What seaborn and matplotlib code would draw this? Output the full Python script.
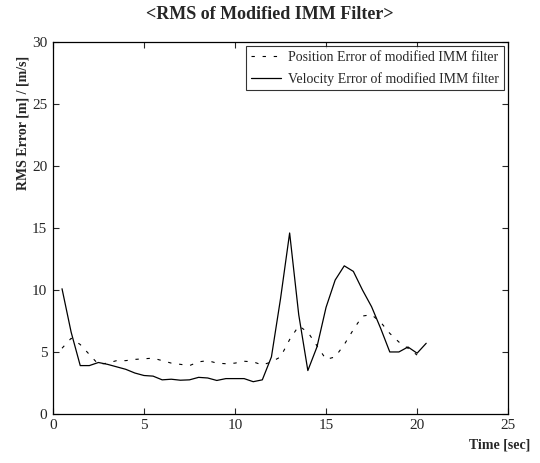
import numpy as np
import pandas as pd
import matplotlib
matplotlib.use("Agg")
import matplotlib.pyplot as plt
import seaborn as sns

time_vel = [0.5, 1.0, 1.5, 2.0, 2.5, 3.0, 3.5, 4.0, 4.5, 5.0, 5.5, 6.0, 6.5, 7.0, 7.5,
            8.0, 8.5, 9.0, 9.5, 10.0, 10.5, 11.0, 11.5, 12.0, 12.5, 13.0, 13.5, 14.0,
            14.5, 15.0, 15.5, 16.0, 16.5, 17.0, 17.5, 18.0, 18.5, 19.0, 19.5, 20.0, 20.5]
velocity_err = [10.1, 6.6, 3.9, 3.9, 4.15, 4.0, 3.8, 3.6, 3.3, 3.1, 3.05, 2.75, 2.8, 2.72,
                2.75, 2.95, 2.9, 2.7, 2.85, 2.85, 2.85, 2.6, 2.75, 4.6, 9.3, 14.6, 8.0, 3.5,
                5.4, 8.6, 10.8, 11.95, 11.5, 10.0, 8.65, 6.9, 5.0, 5.0, 5.4, 4.9, 5.7]

time_pos = [0.5, 1.0, 1.5, 2.0, 2.5, 3.0, 3.5, 4.0, 4.5, 5.0, 5.5, 6.0, 6.5, 7.0, 7.5,
            8.0, 8.5, 9.0, 9.5, 10.0, 10.5, 11.0, 11.5, 12.0, 12.5, 13.0, 13.5, 14.0,
            14.5, 15.0, 15.5, 16.0, 16.5, 17.0, 17.5, 18.0, 18.5, 19.0, 19.5, 20.0]
position_err = [5.3, 6.1, 5.6, 4.8, 4.0, 4.1, 4.3, 4.3, 4.4, 4.45, 4.5, 4.3, 4.1, 4.0, 3.9,
                4.2, 4.3, 4.1, 4.05, 4.1, 4.25, 4.2, 3.95, 4.2, 4.6, 6.0, 7.1, 6.6, 5.5,
                4.4, 4.6, 5.6, 6.8, 7.9, 8.0, 7.4, 6.5, 5.8, 5.3, 4.75]

labels = ["Position Error of modified IMM filter", "Velocity Error of modified IMM filter"]
x_ticks = [0, 5, 10, 15, 20, 25]
y_ticks = [0, 5, 10, 15, 20, 25, 30]

sns.set_style("ticks")
plt.rcParams["font.family"] = ["Liberation Serif", "DejaVu Serif"]

df_pos = pd.DataFrame({"t": time_pos, "v": position_err})
df_vel = pd.DataFrame({"t": time_vel, "v": velocity_err})

fig = plt.figure(figsize=(5.4, 4.63), dpi=100)
ax = fig.add_axes([0.098, 0.106, 0.843, 0.803])

sns.lineplot(data=df_pos, x="t", y="v", ax=ax, color="black", linewidth=0.8,
             label=labels[0])
sns.lineplot(data=df_vel, x="t", y="v", ax=ax, color="black", linewidth=0.9,
             label=labels[1])
ax.lines[0].set_dashes([3, 7])

ax.set_xlim(0, 25)
ax.set_ylim(0, 30)
ax.set_xticks(x_ticks)
ax.set_yticks(y_ticks)
ax.tick_params(direction="in", top=True, right=True, length=4, width=0.8,
               labelsize=11, pad=4)
for s in ax.spines.values():
    s.set_linewidth(0.9)
    s.set_color("black")
ax.set_xlabel("")
ax.set_ylabel("")

fig.text(23 / 540, 1 - 190 / 463, "RMS Error [m] / [m/s]", rotation=90,
         ha="center", va="bottom", fontsize=10, fontweight="bold")
fig.text(0.982, 0.025, "Time [sec]", ha="right", va="bottom", fontsize=10,
         fontweight="bold")
fig.text(0.5, 0.968, "<RMS of Modified IMM Filter>", ha="center", va="center",
         fontsize=13, fontweight="bold")

leg = ax.legend(loc="upper right", fontsize=10, frameon=True, fancybox=False,
                borderaxespad=0.3, handlelength=2.2, handletextpad=0.5,
                borderpad=0.35, labelspacing=0.55)
leg.get_frame().set_edgecolor("black")
leg.get_frame().set_linewidth(0.8)

fig.savefig("out.png", dpi=100)
